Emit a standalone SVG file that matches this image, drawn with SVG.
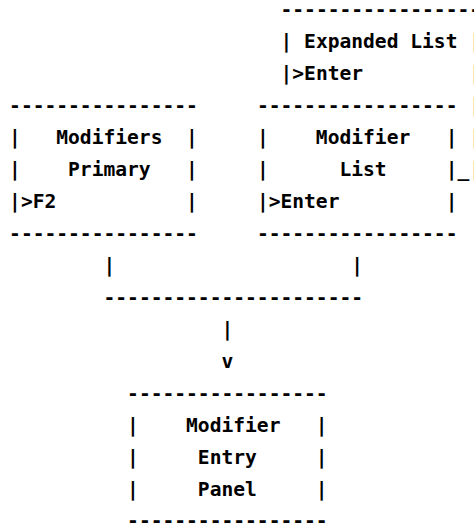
<svg xmlns="http://www.w3.org/2000/svg" width="474" height="525" viewBox="0 0 474 525">
<style>
text{font-family:"DejaVu Sans Mono","Liberation Mono",monospace;font-weight:bold;font-size:19.6px;fill:#000;white-space:pre}
</style>
<rect width="474" height="525" fill="#fff"/>
<g id="expanded-list" xml:space="preserve">
<text x="280.5" y="16.3">----------------</text>
<text x="469.3" y="16.3">-</text>
<text x="280.5" y="48.3">| Expanded List</text>
<text x="469.3" y="48.3">|</text>
<text x="280.5" y="80.3">|&gt;Enter</text>
<text x="469.3" y="80.3">|</text>
<text x="469.3" y="112.3">|</text>
<text x="469.3" y="144.3">|</text>
<text x="457.5" y="176.3">_</text>
<text x="469.3" y="176.3">|</text>
</g>
<g id="modifiers-primary" xml:space="preserve">
<text x="9.1" y="112.3">----------------</text>
<text x="9.1" y="144.3">|   Modifiers  |</text>
<text x="9.1" y="176.3">|    Primary   |</text>
<text x="9.1" y="208.3">|&gt;F2           |</text>
<text x="9.1" y="240.3">----------------</text>
</g>
<g id="modifier-list" xml:space="preserve">
<text x="256.9" y="112.3">-----------------</text>
<text x="256.9" y="144.3">|    Modifier   |</text>
<text x="256.9" y="176.3">|      List     |</text>
<text x="256.9" y="208.3">|&gt;Enter         |</text>
<text x="256.9" y="240.3">-----------------</text>
</g>
<g id="connectors" xml:space="preserve">
<text x="103.5" y="272.3">|</text>
<text x="351.3" y="272.3">|</text>
<text x="103.5" y="304.3">----------------------</text>
<text x="221.5" y="336.3">|</text>
<text x="221.5" y="368.3">v</text>
</g>
<g id="modifier-entry-panel" xml:space="preserve">
<text x="127.1" y="400.3">-----------------</text>
<text x="127.1" y="432.3">|    Modifier   |</text>
<text x="127.1" y="464.3">|     Entry     |</text>
<text x="127.1" y="496.3">|     Panel     |</text>
<text x="127.1" y="527.3">-----------------</text>
</g>
</svg>
